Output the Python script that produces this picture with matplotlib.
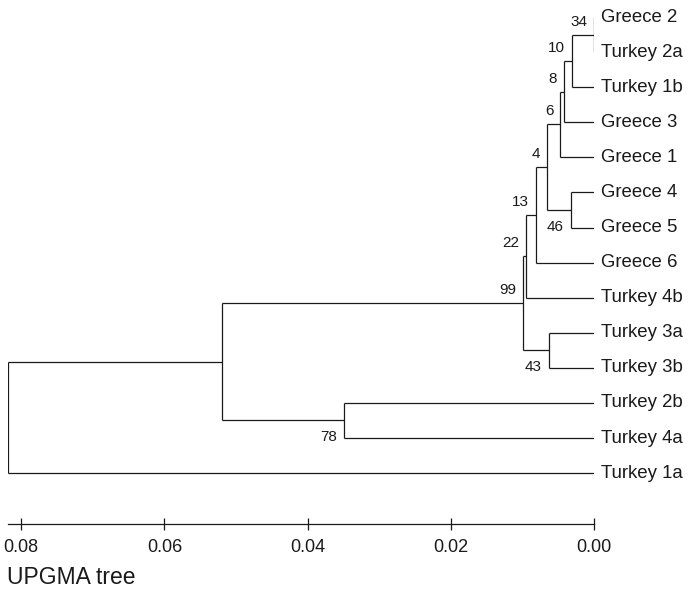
import matplotlib
matplotlib.use("Agg")
import matplotlib.pyplot as plt

plt.rcParams['font.family'] = ['Liberation Sans', 'DejaVu Sans']

# Leaves (top to bottom)
leaves = ["Greece 2", "Turkey 2a", "Turkey 1b", "Greece 3", "Greece 1",
          "Greece 4", "Greece 5", "Greece 6", "Turkey 4b", "Turkey 3a",
          "Turkey 3b", "Turkey 2b", "Turkey 4a", "Turkey 1a"]

# Merges: children ids (leaves 0..13, internal nodes 14..), heights, bootstrap
merge_left = [0, 14, 15, 16, 5, 17, 19, 20, 9, 21, 11, 23, 25]
merge_right = [1, 2, 3, 4, 6, 18, 7, 8, 10, 22, 12, 24, 13]
merge_height = [0.0, 0.00315, 0.00419, 0.00475, 0.00325, 0.0066, 0.00814,
                0.00953, 0.00636, 0.00991, 0.03493, 0.05192, 0.08179]
bootstrap = ["34", "10", "8", "6", "46", "4", "13", "22", "43", "99", "78", "", ""]
bs_side = ["up", "up", "up", "up", "down", "up", "up", "up", "down", "up", "down", "", ""]

ticks = [0.08, 0.06, 0.04, 0.02, 0.00]
tick_labels = ["0.08", "0.06", "0.04", "0.02", "0.00"]

W, H = 688, 591
fig = plt.figure(figsize=(W / 100, H / 100), dpi=100)
x_left_px, x_right_px = 8.3, 594.3
root_h = merge_height[-1]
ax = fig.add_axes([x_left_px / W, (H - 524) / H, (x_right_px - x_left_px) / W, 524 / H])
ax.set_xlim(root_h, 0.0)
ax.set_ylim(14.45, -0.485)

color = "#1a1a1a"
lw = 0.9

n = len(leaves)
ypos = {i: float(i) for i in range(n)}
xpos = {i: 0.0 for i in range(n)}
for k, (a, b, h) in enumerate(zip(merge_left, merge_right, merge_height)):
    node = n + k
    ya, yb = ypos[a], ypos[b]
    ax.plot([h, h], [ya, yb], color=color, lw=lw, solid_capstyle='butt')
    ax.plot([xpos[a], h], [ya, ya], color=color, lw=lw, solid_capstyle='butt')
    ax.plot([xpos[b], h], [yb, yb], color=color, lw=lw, solid_capstyle='butt')
    ypos[node] = (ya + yb) / 2
    xpos[node] = h
    if bootstrap[k]:
        dy = 9.4 if bs_side[k] == "up" else -12.0
        ax.annotate(bootstrap[k], (h, ypos[node]), xytext=(-5, dy),
                    textcoords="offset points", ha="right", va="center",
                    fontsize=11, color=color)

for i, name in enumerate(leaves):
    ax.annotate(name, (0.0, i), xytext=(5, 0), textcoords="offset points",
                ha="left", va="center", fontsize=13.4, color=color,
                annotation_clip=False)

for s in ["top", "left", "right"]:
    ax.spines[s].set_visible(False)
ax.spines["bottom"].set_bounds(0.0, root_h)
ax.spines["bottom"].set_color(color)
ax.spines["bottom"].set_linewidth(lw)
ax.set_yticks([])
ax.set_xticks(ticks)
ax.set_xticklabels(tick_labels, fontsize=13)
ax.tick_params(axis="x", direction="inout", length=8, width=lw, colors=color, pad=7)

fig.text(6.7 / W, 1 - 577 / H, "UPGMA tree", fontsize=16.5, ha="left", va="center", color=color)

fig.savefig("out.png", dpi=100)
